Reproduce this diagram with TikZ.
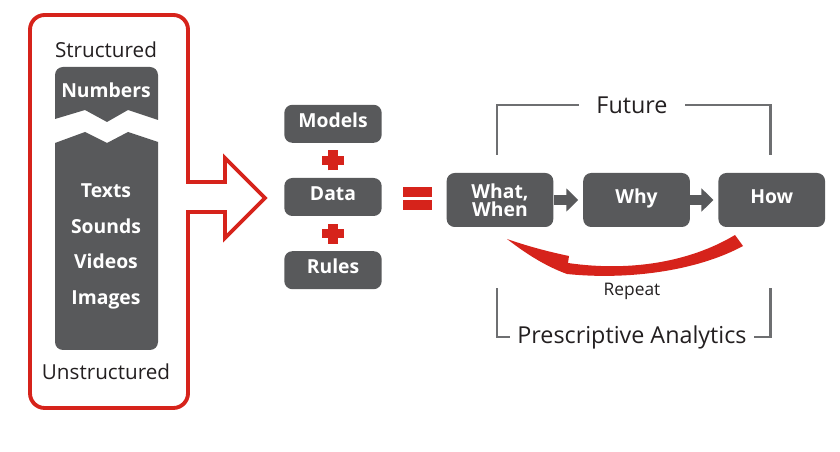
\documentclass[tikz,border=0pt]{standalone}
\usepackage{fontspec}
\setmainfont{Open Sans}
\usetikzlibrary{positioning,calc,arrows.meta}
\definecolor{boxgray}{RGB}{88,89,91}
\definecolor{linegray}{RGB}{110,111,113}
\definecolor{accent}{RGB}{214,35,27}
\definecolor{ink}{RGB}{35,31,32}
\tikzset{
  graybox/.style={fill=boxgray, text=white, rounded corners=6pt, inner sep=0pt,
    font=\fontsize{14.5}{13.5}\selectfont\bfseries},
  fixtext/.style={text height=0.75em, text depth=0.25em},
  stepbox/.style={graybox, minimum width=80pt, minimum height=40.5pt},
  inputbox/.style={graybox, fixtext, minimum width=73pt, minimum height=28.5pt},
  flow/.style={draw=boxgray, line width=7pt, shorten >=3.5pt,
    -{Triangle[length=9pt,width=17pt]}},
  bracket/.style={draw=linegray, line width=1.9pt},
  label/.style={text=ink, inner sep=0pt},
  coltext/.style={text=white, inner sep=0pt, font=\fontsize{14.5}{16}\selectfont\bfseries},
}
\begin{document}
\begin{tikzpicture}[x=0.75pt, y=-0.75pt]
\useasboundingbox (0,0) rectangle (840,452);

% input panel with its arrow
\draw[accent, line width=2.9pt, line join=miter]
  (188,100) [rounded corners=11pt] -- (188,15) -- (30,15) -- (30,408) -- (188,408) -- (188,300)
  [sharp corners] -- (188,212) -- (225,212) -- (225,238) -- (265,198) -- (225,158) -- (225,182)
  -- (188,182) -- cycle;

% data column, cut in two
\fill[boxgray] (55,119) [rounded corners=6pt] -- (55,67) -- (158,67) -- (158,90)
  [sharp corners] -- (158,120) -- (128,110) -- (107,122) -- (85,110) -- cycle;
\fill[boxgray] (55,143) -- (85,132) -- (107,143) -- (128,132) -- (158,142) -- (158,200)
  [rounded corners=6pt] -- (158,350) -- (55,350) -- (55,200) [sharp corners] -- cycle;

\node[label, anchor=base, font=\fontsize{15.5}{18}\selectfont] (structured) at (106,58) {Structured};
\node[label, anchor=base, font=\fontsize{15.5}{18}\selectfont] (unstructured) at (106,380) {Unstructured};
\node[coltext] (numbers) at (106,90) {Numbers};
\foreach \name/\txt [count=\i] in {texts/Texts, sounds/Sounds, videos/Videos, images/Images}
  \node[coltext, anchor=base] (\name) at (106,{162.5+35.5*\i}) {\txt};

% models + data + rules
\node[inputbox] (data) at (333,197) {Data};
\node[inputbox, above=26pt of data] (models) {Models};
\node[inputbox, below=26pt of data] (rules) {Rules};
\foreach \a/\b in {models/data, data/rules} {
  \coordinate (plus\a) at ($(\a.south)!0.5!(\b.north)$);
  \draw[accent, line width=7pt] ([xshift=-8.25pt]plus\a) -- ([xshift=8.25pt]plus\a)
    ([yshift=-7.5pt]plus\a) -- ([yshift=7.5pt]plus\a);
}

% equals sign
\coordinate (eq) at (417.5,198.5);
\fill[accent] ($(eq)+(-14.5,-11.5)$) rectangle ($(eq)+(14.5,-1.5)$);
\fill[accent] ($(eq)+(-14.5,1.5)$) rectangle ($(eq)+(14.5,11.5)$);

% steps
\node[stepbox, align=center] (ww) at (500,200) {What,\\When};
\node[stepbox, fixtext, right=22pt of ww] (why) {Why};
\node[stepbox, fixtext, right=21pt of why] (how) {How};
\draw[flow] (ww) -- (why);
\draw[flow] (why) -- (how);

% brackets
\node[label, inner xsep=13pt, font=\fontsize{17.5}{20}\selectfont] (future) at (632,105) {Future};
\draw[bracket] ([xshift=-2.25pt, yshift=13.5pt]ww.north) |- (future.west);
\draw[bracket] ([xshift=-1pt, yshift=13.5pt]how.north) |- (future.east);
\node[label, inner xsep=5pt, font=\fontsize{17.5}{20}\selectfont] (pa) at (632,337) {Prescriptive Analytics};
\draw[bracket] ([xshift=-2.25pt, yshift=-45.75pt]ww.south) |- (pa.west);
\draw[bracket] ([xshift=-1pt, yshift=-45.75pt]how.south) |- (pa.east);

% repeat loop
\fill[accent] (507,239) .. controls (530,247) and (550,252) .. (569,256) -- (568,263)
  .. controls (630,272) and (690,262) .. (735,235) -- (743,246)
  .. controls (695,272) and (625,280) .. (567,274)
  .. controls (545,266) and (525,253) .. (507,239) -- cycle;
\node[label, font=\fontsize{13}{15}\selectfont] (repeat) at (632,291) {Repeat};
\end{tikzpicture}
\end{document}
